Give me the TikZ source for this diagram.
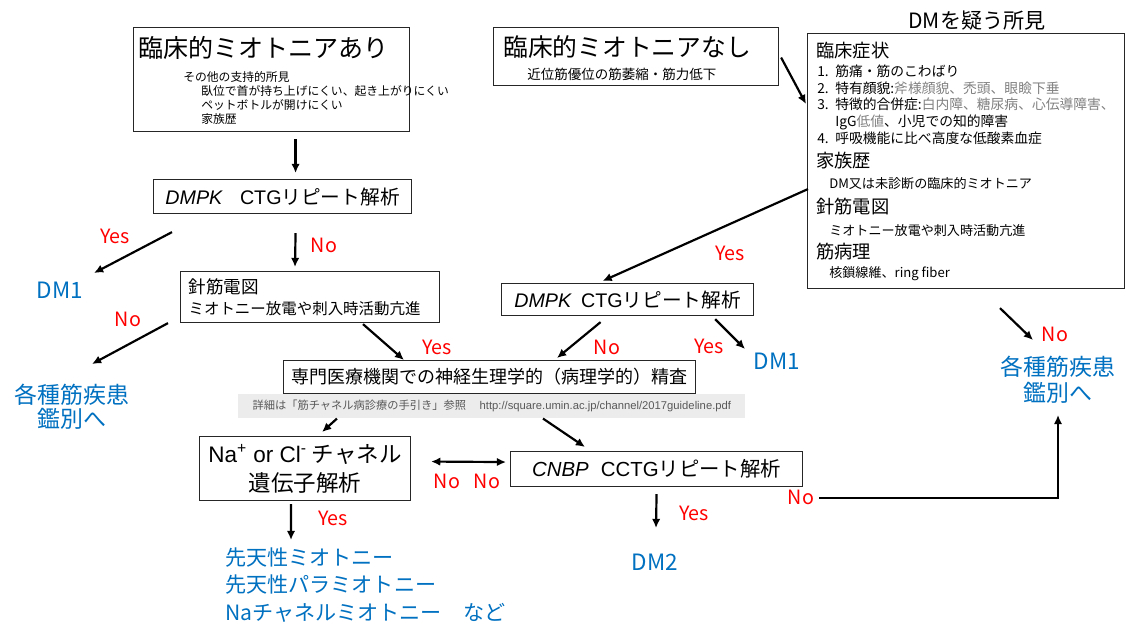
\documentclass[tikz,border=0pt]{standalone}
\usepackage{fontspec}
\setmainfont{Noto Sans CJK JP}
\newfontfamily\latin{Liberation Sans}
\usetikzlibrary{arrows.meta,calc}
\definecolor{dmblue}{RGB}{0,112,192}
\definecolor{bandgray}{RGB}{236,236,236}
\newcommand\fsz[1]{\fontsize{#1}{#1}\selectfont}
\newcommand\itemno[1]{\makebox[0.45cm][l]{#1}}
\tikzset{
  box/.style={draw=black!85, line width=0.8pt, anchor=north west, inner sep=0pt},
  arr/.style={->, line width=1.55pt},
  lab/.style={text=red, font=\fsz{14}, inner sep=0pt},
  res/.style={text=dmblue, align=center, inner sep=0pt},
  txt/.style={anchor=west, inner sep=0pt},
}
\begin{document}
\begin{tikzpicture}[x=0.025cm, y=-0.025cm, >={Latex[length=6.5pt,width=6pt]}]
\def\px{0.025cm}
\useasboundingbox (0,0) rectangle (1126,628);

% start boxes
\node[box, minimum width=276*\px, minimum height=104*\px] (myoA) at (133,27) {};
\node[txt, font=\fsz{17.8}] (myoAt) at (138,48) {臨床的ミオトニアあり};
\foreach \x/\y/\t [count=\i] in {183/77/その他の支持的所見, 201/91/臥位で首が持ち上げにくい、起き上がりにくい, 201/105/ペットボトルが開けにくい, 201/119/家族歴}
  \node[txt, font=\fsz{8.4}] (myoA\i) at (\x,\y) {\t};

\node[box, minimum width=285*\px, minimum height=58*\px] (myoN) at (493,27) {};
\node[txt, font=\fsz{17.6}] (myoNt) at (503,47) {臨床的ミオトニアなし};
\node[txt, font=\fsz{9.6}] (myoNs) at (527,74) {近位筋優位の筋萎縮・筋力低下};

% DM findings
\node[font=\fsz{15}, inner sep=0pt] (susT) at (977,21) {DMを疑う所見};
\node[box, minimum width=317*\px, minimum height=255*\px] (sus) at (807,33) {};
\foreach \y/\t [count=\i] in {51/臨床症状, 161/家族歴, 207/針筋電図, 252/筋病理}
  \node[txt, font=\fsz{13}] (susH\i) at (816,\y) {\t};
\foreach \y/\t [count=\i] in {71/{\itemno{1.}筋痛・筋のこわばり},
    88/{\itemno{2.}特有顔貌:{\color{gray}斧様顔貌、禿頭、眼瞼下垂}},
    104/{\itemno{3.}特徴的合併症:{\color{gray}白内障、糖尿病、心伝導障害、}},
    122/{\itemno{}IgG{\color{gray}低値}、小児での知的障害},
    138/{\itemno{4.}呼吸機能に比べ高度な低酸素血症}}
  \node[txt, font=\fsz{9.8}] (susL\i) at (817,\y) {\t};
\foreach \y/\t [count=\i] in {184/DM又は未診断の臨床的ミオトニア, 231/ミオトニー放電や刺入時活動亢進, 274/{核鎖線維、ring fiber}}
  \node[txt, font=\fsz{9.3}] (susS\i) at (829,\y) {\t};

% tests
\node[box, minimum width=258*\px, minimum height=34*\px, font=\fsz{14}] (dmpkA) at (153,179) {{\latin\itshape DMPK}\hspace{0.9em}{\latin CTG}リピート解析};
\node[box, minimum width=259*\px, minimum height=51*\px, align=left, text width=6.075cm, inner xsep=8*\px, font=\fontsize{11}{15}\selectfont] (emg) at (180,271) {{\fsz{12.5}針筋電図}\\ミオトニー放電や刺入時活動亢進};
\node[box, minimum width=252*\px, minimum height=32*\px, font=\fsz{14}] (dmpkB) at (501,283) {{\latin\itshape DMPK}\hspace{0.5em}{\latin CTG}リピート解析};
\node[box, minimum width=412*\px, minimum height=33*\px, font=\fsz{12.8}] (spec) at (283,360) {専門医療機関での神経生理学的（病理学的）精査};
\node[fill=bandgray, anchor=north west, inner sep=0pt, minimum width=507*\px, minimum height=24*\px, font=\fsz{8}, text=black!65] (band) at (238,394) {詳細は「筋チャネル病診療の手引き」参照\hspace{1.2em}{\latin http://square.umin.ac.jp/channel/2017guideline.pdf}};
\node[box, minimum width=211*\px, minimum height=64*\px, align=center, font=\fontsize{16}{20.5}\selectfont] (chan) at (199,436) {{\latin Na\textsuperscript{+} or Cl\textsuperscript{-}} チャネル\\遺伝子解析};
\node[box, minimum width=292*\px, minimum height=35*\px, font=\fsz{14.5}] (cnbp) at (510,451) {{\latin\itshape CNBP}\hspace{0.6em}{\latin CCTG}リピート解析};

% results
\node[res, font=\fsz{16}] (dm1a) at (60,290) {DM1};
\node[res, font=\fsz{16}] (dm1b) at (777,361) {DM1};
\node[res, font=\fsz{16}] (dm2) at (655,562) {DM2};
\node[res, font=\fontsize{16.3}{17}\selectfont] (othA) at (72,407) {各種筋疾患\\鑑別へ};
\node[res, font=\fontsize{16.3}{18.5}\selectfont] (othB) at (1058,380) {各種筋疾患\\鑑別へ};
\node[res, align=left, anchor=west, font=\fontsize{15}{19.5}\selectfont] (cong) at (225,585) {先天性ミオトニー\\先天性パラミオトニー\\Naチャネルミオトニー\hspace{1em}など};

% arrows
\draw[arr] ($(myoA.south)+(24,7)$) -- ($(dmpkA.north)+(13,-6)$);
\draw[arr] ($(dmpkA.south west)+(19,18)$) -- ($(dm1a)+(34,-17)$);
\draw[arr] ($(dmpkA.south)+(13,19)$) -- ($(emg.north west)+(115,-4)$);
\draw[arr] ($(emg.south west)+(-12,0)$) -- ($(othA)+(20,-43)$);
\draw[arr] ($(emg.south west)+(183,1)$) -- ($(spec.north west)+(121,0)$);
\draw[arr] ($(myoN.east)+(2,1)$) -- ($(sus.north west)+(-1,71)$);
\draw[arr] ($(sus.west)+(1,28)$) -- ($(dmpkB.north)+(-25,-2)$);
\draw[arr] ($(dmpkB.south)+(-27,6)$) -- ($(spec.north west)+(274,-2)$);
\draw[arr] ($(dmpkB.south east)+(-39,3)$) -- ($(dm1b)+(-32,-12)$);
\draw[arr] ($(sus.south west)+(193,19)$) -- ($(othB)+(-25,-40)$);
\draw[arr] ($(band.south west)+(99,0)$) -- ($(chan.north)+(17,-4)$);
\draw[arr] ($(band.south west)+(305,0)$) -- ($(cnbp.north west)+(75,-4)$);
\draw[arr, <->] ($(chan.east)+(20,-7)$) -- ($(cnbp.west)+(-4,-7)$);
\draw[arr] ($(chan.south)+(-14,3)$) -- ($(cong.west)+(66,-45)$);
\draw[arr] ($(cnbp.south)+(0,7)$) -- ($(dm2)+(1,-34)$);
\draw[arr] ($(cnbp.south east)+(16,11)$) -| ($(othB)+(0,35)$);

% labels
\foreach \x/\y/\t [count=\i] in {115/236/Yes, 324/245/No, 128/319/No, 437/347/Yes, 730/253/Yes, 607/347/No, 709/346/Yes, 1055/334/No, 447/481/No, 487/481/No, 333/518/Yes, 694/513/Yes, 801/497/No}
  \node[lab] (lab\i) at (\x,\y) {\t};
\end{tikzpicture}
\end{document}
